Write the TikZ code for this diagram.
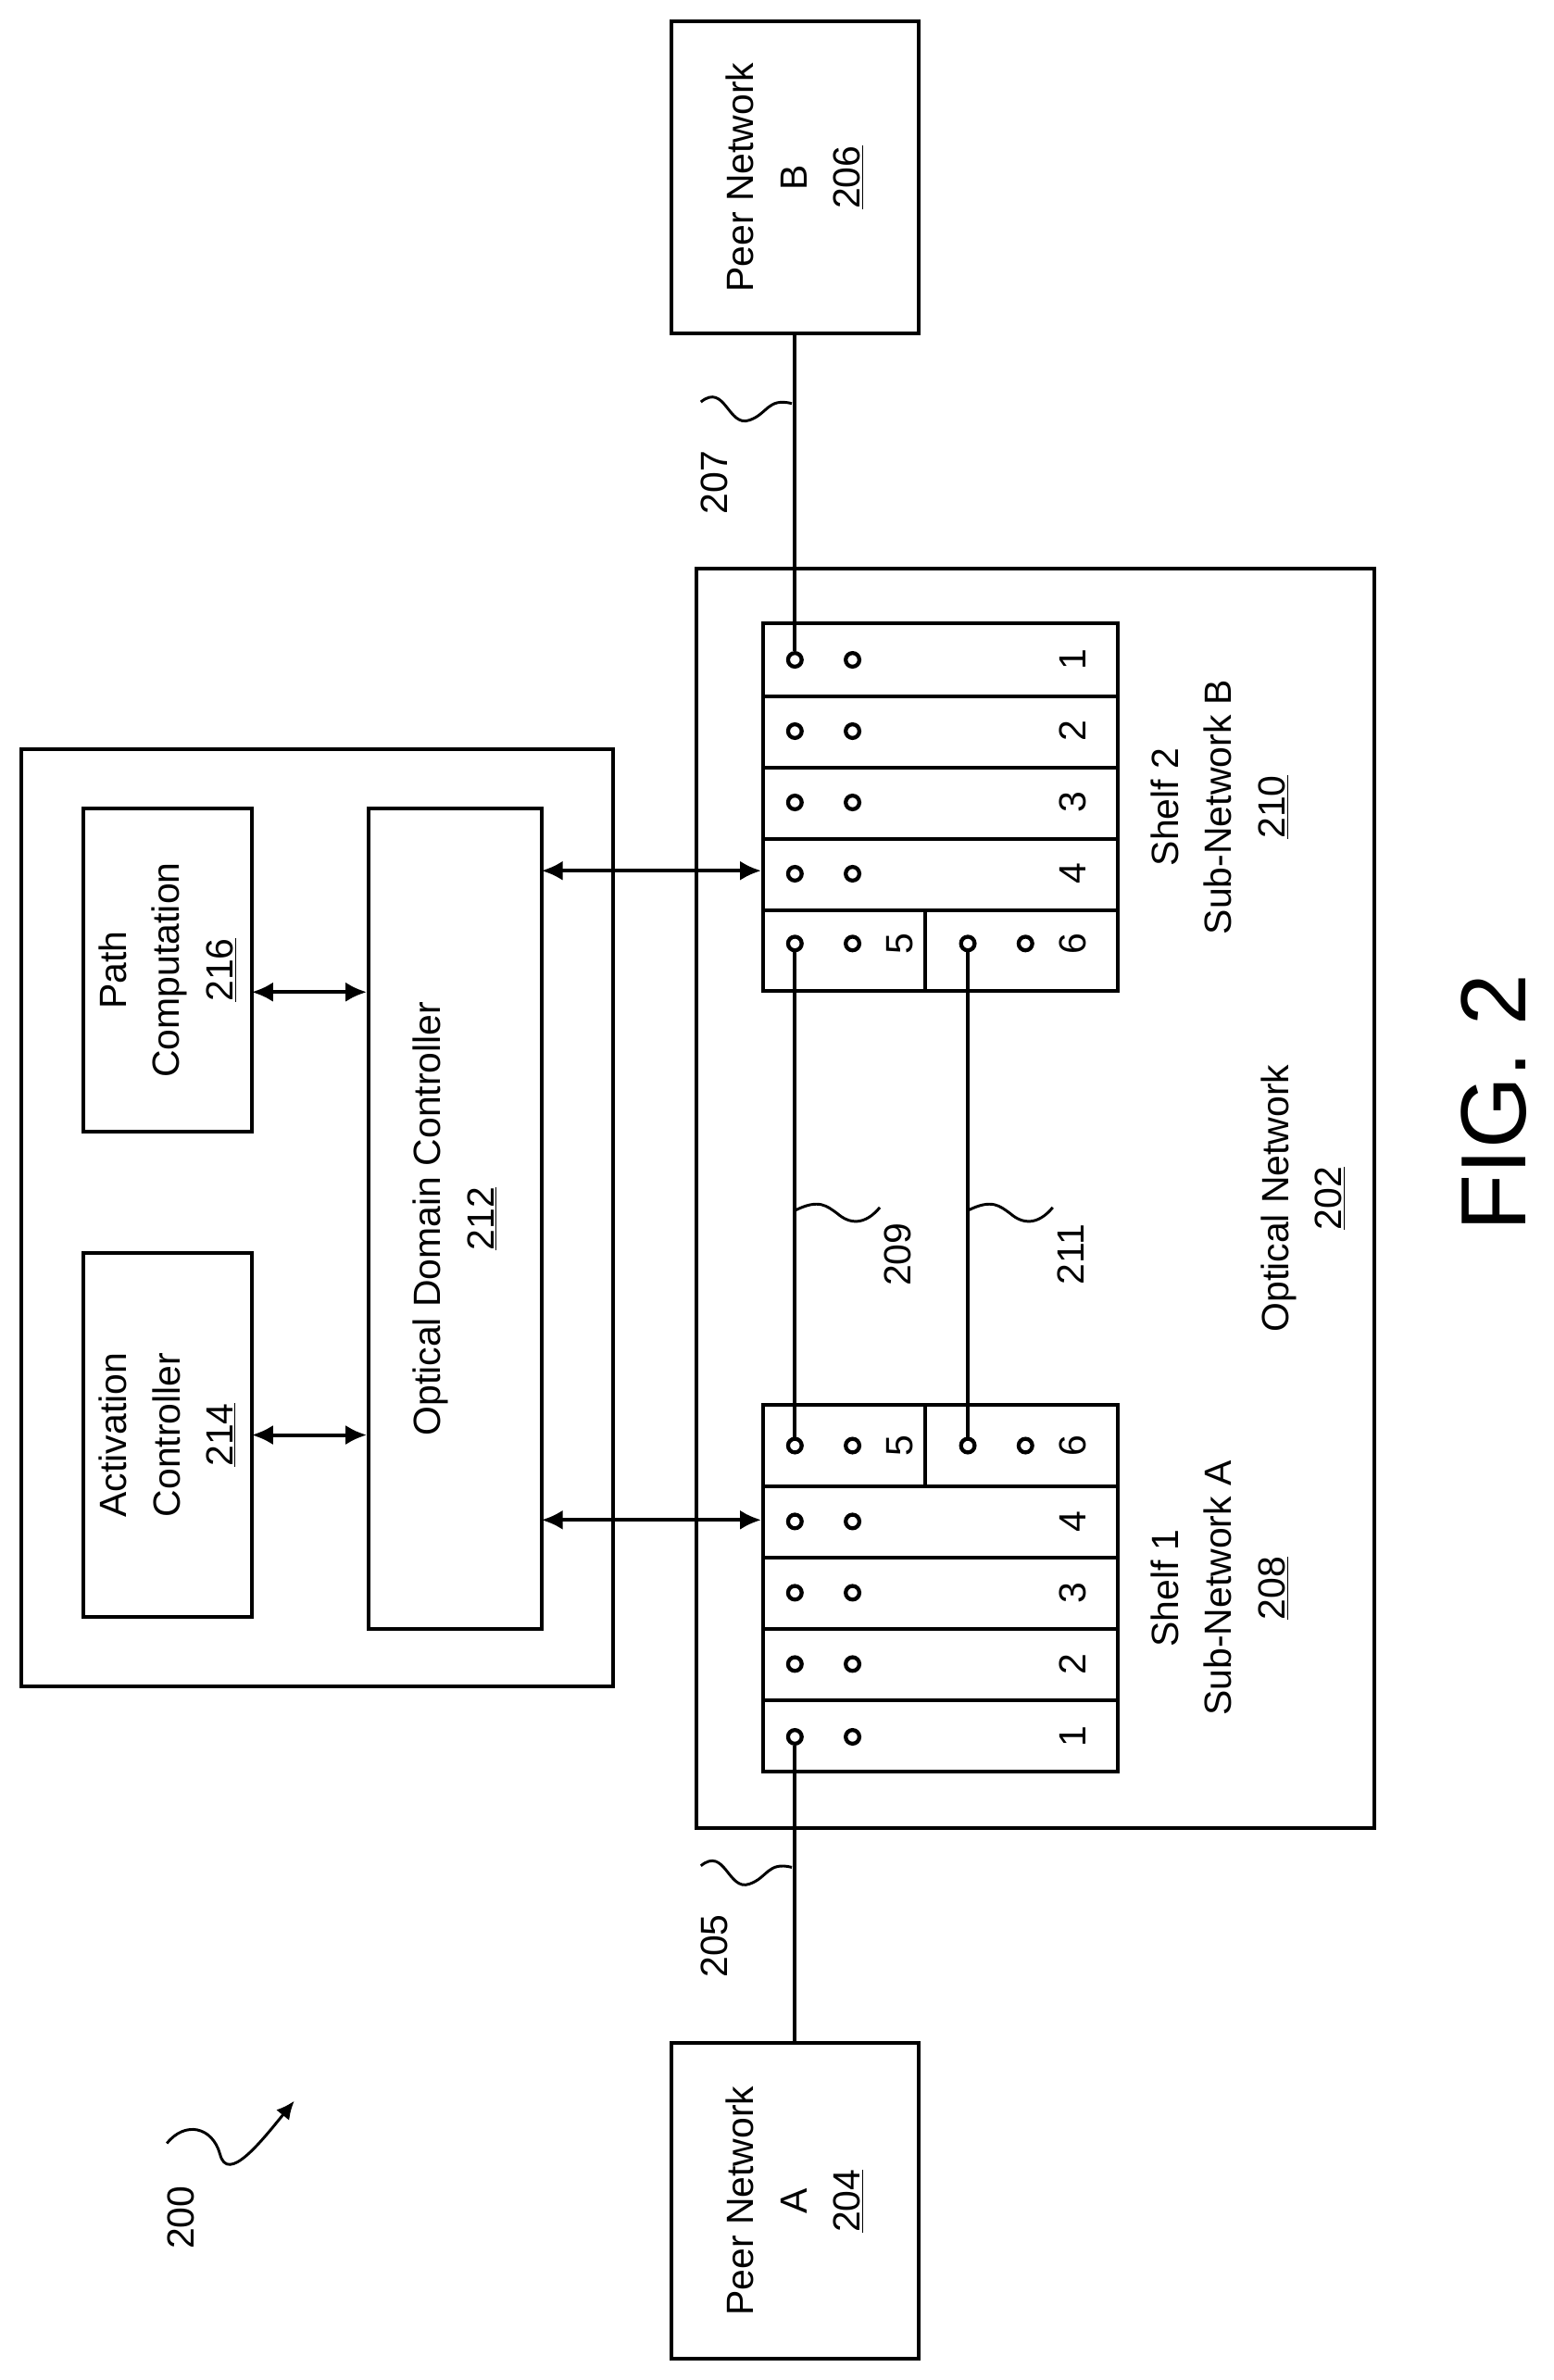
\documentclass[tikz,border=0pt]{standalone}
\usepackage{fontspec}
\setmainfont{Liberation Sans}
\usetikzlibrary{arrows.meta}
\begin{document}
\begin{tikzpicture}[x=1pt,y=-1pt,
  box/.style={draw,line width=2.4pt,inner sep=0pt},
  lbl/.style={rotate=90,align=center,font=\fontsize{25}{35}\selectfont,inner sep=0pt},
  port/.style={circle,draw,line width=2.6pt,minimum size=9pt,inner sep=0pt},
  wire/.style={line width=2.4pt},
  dbl/.style={line width=2.4pt,{Latex[length=14pt,width=13pt]}-{Latex[length=14pt,width=13pt]}}]
\useasboundingbox (0,0) rectangle (1024,1569);
% peer networks
\node[box,minimum width=163pt,minimum height=206pt] (pnb) at (524,117) {};
\node[lbl] (tpnb) at (524,117) {Peer Network\\B\\\underline{206}};
\node[box,minimum width=163pt,minimum height=208pt] (pna) at (524,1451) {};
\node[lbl] (tpna) at (524,1451) {Peer Network\\A\\\underline{204}};
% optical network
\node[box,minimum width=447pt,minimum height=830pt] (on) at (682.5,790) {};
\node[lbl] (ton) at (859,790) {Optical Network\\\underline{202}};
% shelf 2
\node[box,minimum width=234pt,minimum height=242pt] (s2) at (620,532) {};
\draw[wire] (503,459) -- (737,459) (503,506) -- (737,506) (503,553) -- (737,553) (503,600) -- (737,600) (610,600) -- (610,653);
\node[lbl] (ts2) at (804,532) {Shelf 2\\Sub-Network B\\\underline{210}};
% shelf 1
\node[box,minimum width=234pt,minimum height=242pt] (s1) at (620,1047) {};
\draw[wire] (503,980) -- (737,980) (503,1027) -- (737,1027) (503,1074) -- (737,1074) (503,1121) -- (737,1121) (610,926) -- (610,980);
\node[lbl] (ts1) at (804,1047) {Shelf 1\\Sub-Network A\\\underline{208}};
% ports shelf 2
\foreach \n/\y in {1/435,2/482,3/529,4/576}{
  \node[port] (s2p\n) at (524,\y) {};
  \node[port] (s2q\n) at (562,\y) {};
  \node[lbl] (s2l\n) at (707,\y) {\n};}
\node[port] (s2p5) at (524,622) {};
\node[port] (s2q5) at (562,622) {};
\node[lbl] (s2l5) at (593,622) {5};
\node[port] (s2p6) at (638,622) {};
\node[port] (s2q6) at (676,622) {};
\node[lbl] (s2l6) at (707,622) {6};
% ports shelf 1
\node[port] (s1p5) at (524,953) {};
\node[port] (s1q5) at (562,953) {};
\node[lbl] (s1l5) at (593,953) {5};
\node[port] (s1p6) at (638,953) {};
\node[port] (s1q6) at (676,953) {};
\node[lbl] (s1l6) at (707,953) {6};
\foreach \n/\y in {4/1003,3/1050,2/1097,1/1145}{
  \node[port] (s1p\n) at (524,\y) {};
  \node[port] (s1q\n) at (562,\y) {};
  \node[lbl] (s1l\n) at (707,\y) {\n};}
% wires
\draw[wire] (pnb) -- (s2p1);
\draw[wire] (s1p1) -- (pna);
\draw[wire] (s2p5) -- (s1p5);
\draw[wire] (s2p6) -- (s1p6);
% squiggles and labels
\draw[line width=1.8pt] (462,265) .. controls (478,252) and (480,282) .. (494,277) .. controls (506,273) and (506,262) .. (522,266);
\node[lbl] (l207) at (471,318) {207};
\draw[line width=1.8pt] (462,1230) .. controls (478,1217) and (480,1247) .. (494,1242) .. controls (506,1238) and (506,1227) .. (522,1231);
\node[lbl] (l205) at (471,1283) {205};
\draw[line width=1.8pt] (524,798) .. controls (540,790) and (545,795) .. (552,800) .. controls (560,807) and (570,808) .. (580,796);
\node[lbl] (l209) at (592,827) {209};
\draw[line width=1.8pt] (638,798) .. controls (654,790) and (659,795) .. (666,800) .. controls (674,807) and (684,808) .. (694,796);
\node[lbl] (l211) at (706,827) {211};
% controller
\node[box,minimum width=390pt,minimum height=618pt] (ctl) at (209,803) {};
\node[box,minimum width=111pt,minimum height=213pt] (pc) at (110.5,639.5) {};
\node[lbl] (tpc) at (110.5,639.5) {Path\\Computation\\\underline{216}};
\node[box,minimum width=111pt,minimum height=240pt] (ac) at (110.5,946) {};
\node[lbl] (tac) at (110.5,946) {Activation\\Controller\\\underline{214}};
\node[box,minimum width=114pt,minimum height=541pt] (odc) at (300,803.5) {};
\node[lbl] (todc) at (300,803.5) {Optical Domain Controller\\\underline{212}};
\coordinate (a1) at (166,654);
\coordinate (a2) at (166,946);
\coordinate (a3) at (357,574);
\coordinate (a4) at (357,1002);
\draw[dbl] (a1) -- (a1 -| odc.west);
\draw[dbl] (a2) -- (a2 -| odc.west);
\draw[dbl] (a3) -- (a3 -| s2.west);
\draw[dbl] (a4) -- (a4 -| s1.west);
% 200
\node[lbl] (l200) at (119,1462) {200};
\draw[line width=1.8pt,-{Latex[length=12pt,width=11pt]}] (110,1413) .. controls (122,1398) and (140,1402) .. (145,1420) .. controls (150,1440) and (172,1412) .. (194,1385);
% fig
\node[rotate=90,font=\fontsize{61}{70}\selectfont,inner sep=0pt] (fig) at (985,727) {FIG. 2};
\end{tikzpicture}
\end{document}
